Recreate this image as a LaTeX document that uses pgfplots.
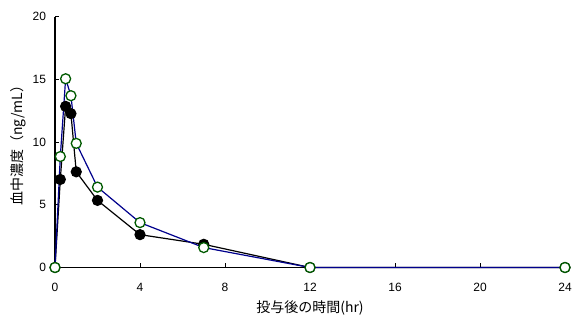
\documentclass[border=0pt]{standalone}
\usepackage{fontspec}
\setmainfont{Liberation Sans}
\newfontfamily\jp{Noto Sans CJK JP}
\usepackage{pgfplots}
\pgfplotsset{compat=1.18}
\definecolor{navyline}{RGB}{0,0,140}
\definecolor{darkgreen}{RGB}{0,90,0}
\begin{document}
\begin{tikzpicture}
\useasboundingbox (0,0) rectangle (576bp,320bp);
\begin{axis}[
  at={(55bp,52.5bp)}, anchor=south west,
  scale only axis, width=510bp, height=250.8bp,
  xmin=0, xmax=24, ymin=0, ymax=20,
  xtick={0,4,...,24}, ytick={0,5,...,20},
  axis lines=left, axis line style={-, line width=1.1bp, black},
  tick align=inside, major tick length=4bp,
  tick style={black, line width=1bp},
  clip=false,
  /pgf/number format/assume math mode=true,
  ticklabel style={font=\fontsize{12bp}{14bp}\selectfont},
  xticklabel style={yshift=-12.5bp},
  yticklabel style={xshift=-5.5bp},
  xlabel={\jp 投与後の時間(hr)},
  ylabel={\jp 血中濃度（ng/mL）},
  label style={font=\fontsize{14bp}{16bp}\selectfont},
  xlabel style={at={(axis description cs:0.5,-0.1615)}, anchor=center},
  ylabel style={at={(axis description cs:-0.0716,0.5)}, anchor=center, rotate=0},
]
\addplot[black, line width=1.2bp, mark=*, mark size=5bp, mark options={fill=black, draw=black}]
coordinates {(0,0) (0.25,7.02) (0.5,12.85) (0.75,12.27) (1,7.63) (2,5.35) (4,2.62) (7,1.85) (12,0) (24,0)};
\addplot[navyline, line width=1.2bp, mark=*, mark size=5bp, mark options={fill=white, draw=darkgreen, line width=1.3bp}]
coordinates {(0,0) (0.25,8.85) (0.5,15.05) (0.75,13.7) (1,9.9) (2,6.41) (4,3.58) (7,1.59) (12,0) (24,0)};
\end{axis}
\end{tikzpicture}
\end{document}
